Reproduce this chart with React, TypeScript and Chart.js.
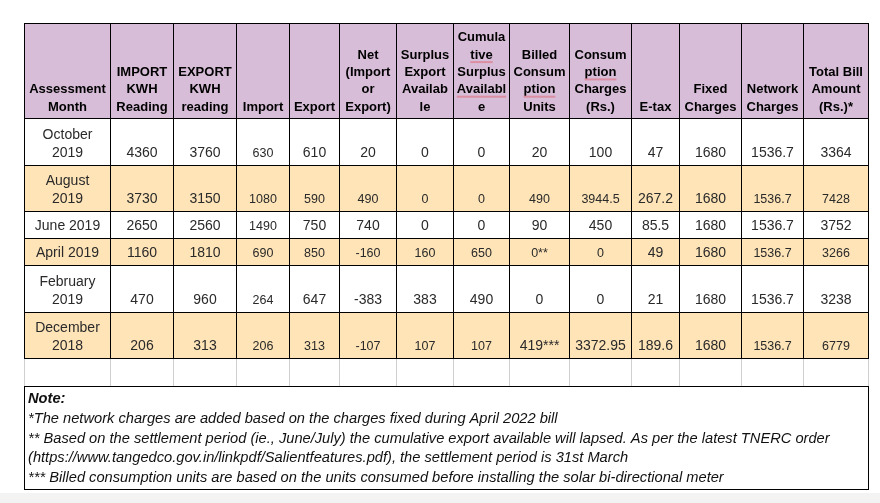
import React, { useEffect, useRef } from "react";
import { Chart, registerables } from "chart.js";

Chart.register(...registerables);

// ---------- data ----------
const headers: string[][] = [
  ["Assessment", "Month"],
  ["IMPORT", "KWH", "Reading"],
  ["EXPORT", "KWH", "reading"],
  ["Import"],
  ["Export"],
  ["Net", "(Import", "or", "Export)"],
  ["Surplus", "Export", "Availab", "le"],
  ["Cumula", "tive", "Surplus", "Availabl", "e"],
  ["Billed", "Consum", "ption", "Units"],
  ["Consum", "ption", "Charges", "(Rs.)"],
  ["E-tax"],
  ["Fixed", "Charges"],
  ["Network", "Charges"],
  ["Total Bill", "Amount", "(Rs.)*"],
];
// header words flagged by the spell checker: [column, line]
const spellFlags: [number, number][] = [[7, 1], [7, 3], [8, 2], [9, 1]];

const months = ["October 2019", "August 2019", "June 2019", "April 2019", "February 2019", "December 2018"];
const importReading = ["4360", "3730", "2650", "1160", "470", "206"];
const exportReading = ["3760", "3150", "2560", "1810", "960", "313"];
const importUnits = ["630", "1080", "1490", "690", "264", "206"];
const exportUnits = ["610", "590", "750", "850", "647", "313"];
const netUnits = ["20", "490", "740", "-160", "-383", "-107"];
const surplusExport = ["0", "0", "0", "160", "383", "107"];
const cumulativeSurplus = ["0", "0", "0", "650", "490", "107"];
const billedUnits = ["20", "490", "90", "0**", "0", "419***"];
const consumptionCharges = ["100", "3944.5", "450", "0", "0", "3372.95"];
const eTax = ["47", "267.2", "85.5", "49", "21", "189.6"];
const fixedCharges = ["1680", "1680", "1680", "1680", "1680", "1680"];
const networkCharges = ["1536.7", "1536.7", "1536.7", "1536.7", "1536.7", "1536.7"];
const totalBill = ["3364", "7428", "3752", "3266", "3238", "6779"];

const noteTitle = "Note:";
const noteLines = [
  "*The network charges are added based on the charges fixed during April 2022 bill",
  "** Based on the settlement period (ie., June/July) the cumulative export available will lapsed. As per the latest TNERC order",
  "(https://www.tangedco.gov.in/linkpdf/Salientfeatures.pdf), the settlement period is 31st March",
  "*** Billed consumption units are based on the units consumed before installing the solar bi-directional meter",
];

// ---------- layout / style ----------
const COL_EDGES = [24, 110, 173, 236, 289, 339, 396, 453, 509, 569, 631, 679, 741, 803, 868];
const ROW_EDGES = [23, 118, 165, 211, 238, 265, 312, 358];
const EMPTY_ROW_BOTTOM = 386;
const NOTE_BOTTOM = 489;
const SMALL_CELLS: number[][] = [
  [3],
  [3, 4, 5, 6, 7, 8, 9, 12, 13],
  [3],
  [3, 4, 5, 6, 7, 8, 9, 12, 13],
  [3],
  [3, 4, 5, 6, 7, 12, 13],
];
const HEADER_BG = "#d7bdd8";
const ALT_BG = "#fee4b7";
const FONT = "'Liberation Sans', Arial, sans-serif";

const tablePlugin = {
  id: "tablePlugin",
  afterDraw(chart: any) {
    const ctx: CanvasRenderingContext2D = chart.ctx;
    const X = (v: number) => Math.round(chart.scales.x.getPixelForValue(v));
    const Y = (v: number) => Math.round(chart.scales.y.getPixelForValue(v));
    const columns = [
      months, importReading, exportReading, importUnits, exportUnits, netUnits, surplusExport,
      cumulativeSurplus, billedUnits, consumptionCharges, eTax, fixedCharges, networkCharges, totalBill,
    ];
    const left = COL_EDGES[0];
    const right = COL_EDGES[COL_EDGES.length - 1];
    ctx.save();

    // bottom gray strip
    ctx.fillStyle = "#f3f3f3";
    ctx.fillRect(X(0), Y(493), X(880) - X(0), Y(503) - Y(493));

    // backgrounds
    ctx.fillStyle = HEADER_BG;
    ctx.fillRect(X(left), Y(ROW_EDGES[0]), X(right) - X(left), Y(ROW_EDGES[1]) - Y(ROW_EDGES[0]));
    for (let r = 0; r < months.length; r++) {
      ctx.fillStyle = r % 2 === 1 ? ALT_BG : "#ffffff";
      ctx.fillRect(X(left), Y(ROW_EDGES[r + 1]), X(right) - X(left), Y(ROW_EDGES[r + 2]) - Y(ROW_EDGES[r + 1]));
    }

    // empty row gray grid
    ctx.fillStyle = "#cfcfcf";
    for (const c of COL_EDGES) {
      ctx.fillRect(X(c), Y(ROW_EDGES[ROW_EDGES.length - 1]), 1, Y(EMPTY_ROW_BOTTOM) - Y(ROW_EDGES[ROW_EDGES.length - 1]));
    }

    // black grid
    ctx.fillStyle = "#000000";
    const top = ROW_EDGES[0];
    const bottom = ROW_EDGES[ROW_EDGES.length - 1];
    for (const c of COL_EDGES) ctx.fillRect(X(c), Y(top), 1, Y(bottom) - Y(top) + 1);
    for (const rr of ROW_EDGES) ctx.fillRect(X(left), Y(rr), X(right) - X(left) + 1, 1);

    // note box
    ctx.fillRect(X(left), Y(EMPTY_ROW_BOTTOM), X(right) - X(left) + 1, 1);
    ctx.fillRect(X(left), Y(NOTE_BOTTOM), X(right) - X(left) + 1, 1);
    ctx.fillRect(X(left), Y(EMPTY_ROW_BOTTOM), 1, Y(NOTE_BOTTOM) - Y(EMPTY_ROW_BOTTOM));
    ctx.fillRect(X(right), Y(EMPTY_ROW_BOTTOM), 1, Y(NOTE_BOTTOM) - Y(EMPTY_ROW_BOTTOM));

    // header text
    ctx.textAlign = "center";
    ctx.textBaseline = "alphabetic";
    ctx.font = `bold 13px ${FONT}`;
    const hLine = 17.3;
    headers.forEach((lines, c) => {
      const cx = (X(COL_EDGES[c]) + X(COL_EDGES[c + 1])) / 2 + 0.5;
      const baseLast = Y(ROW_EDGES[1]) - 7.5;
      lines.forEach((ln, i) => {
        const by = baseLast - (lines.length - 1 - i) * hLine;
        ctx.fillStyle = "#000000";
        ctx.fillText(ln, cx, by);
        if (spellFlags.some(([fc, fl]) => fc === c && fl === i)) {
          const w = ctx.measureText(ln).width;
          ctx.fillStyle = "#dc8fa2";
          ctx.fillRect(cx - w / 2, by + 2.5, w, 2);
        }
      });
    });

    // data text
    for (let r = 0; r < months.length; r++) {
      const rowBottom = Y(ROW_EDGES[r + 2]);
      columns.forEach((col, c) => {
        const small = SMALL_CELLS[r].includes(c);
        const size = small ? 12.5 : 14;
        ctx.font = `${size}px ${FONT}`;
        ctx.fillStyle = "#2a2a2a";
        const cx = (X(COL_EDGES[c]) + X(COL_EDGES[c + 1])) / 2 + 0.5;
        const maxW = X(COL_EDGES[c + 1]) - X(COL_EDGES[c]) - 10;
        const text = col[r];
        let lines = [text];
        if (ctx.measureText(text).width > maxW && text.includes(" ")) lines = text.split(" ");
        const baseLast = rowBottom - (small ? 8 : 8.5);
        lines.forEach((ln, i) => {
          ctx.fillText(ln, cx, baseLast - (lines.length - 1 - i) * 18);
        });
      });
    }

    // note text
    ctx.textAlign = "left";
    ctx.fillStyle = "#111111";
    ctx.font = `italic bold 14.67px ${FONT}`;
    const nx = X(left) + 4;
    ctx.fillText(noteTitle, nx, Y(EMPTY_ROW_BOTTOM) + 16.5);
    ctx.font = `italic 14.67px ${FONT}`;
    noteLines.forEach((ln, i) => {
      ctx.fillText(ln, nx, Y(EMPTY_ROW_BOTTOM) + 37 + i * 19.5);
    });

    ctx.restore();
  },
};

export default function App() {
  const ref = useRef<HTMLCanvasElement | null>(null);
  useEffect(() => {
    document.body.style.margin = "0";
    if (!ref.current) return;
    const chart = new Chart(ref.current, {
      type: "scatter",
      data: { datasets: [{ data: [] as any[] }] },
      options: {
        animation: false,
        responsive: false,
        devicePixelRatio: 1,
        layout: { padding: 0 },
        plugins: { legend: { display: false }, tooltip: { enabled: false } },
        scales: {
          x: { type: "linear", min: 0, max: 880, display: false },
          y: { type: "linear", min: 0, max: 503, reverse: true, display: false },
        },
      },
      plugins: [tablePlugin],
    });
    return () => chart.destroy();
  }, []);
  return <canvas ref={ref} width={880} height={503} style={{ display: "block" }} />;
}
